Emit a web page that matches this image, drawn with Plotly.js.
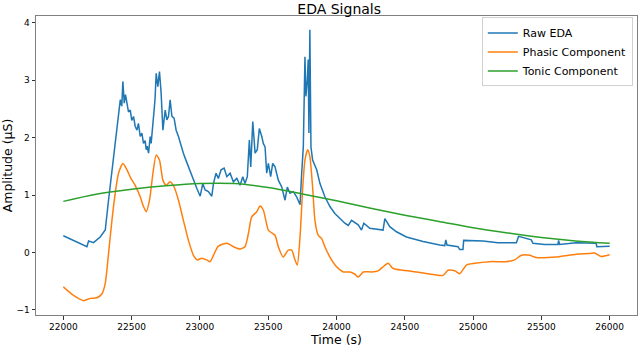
<!DOCTYPE html>
<html>
<head>
<meta charset="utf-8">
<script src="https://cdn.plot.ly/plotly-3.0.1.min.js"></script>
<style>
  body { margin: 0; padding: 0; background: #fff; }
  #myChart { width: 640px; height: 347px; }
</style>
</head>
<body>
<div id="myChart"></div>
<script>
// values
var raw_t = [22000, 22088, 22173, 22185, 22221, 22270, 22307, 22331, 22356, 22380,
  22404, 22417, 22428, 22436, 22446, 22455, 22466, 22477, 22490, 22501,
  22514, 22526, 22539, 22550, 22563, 22575, 22587, 22599, 22607, 22614,
  22624, 22636, 22643, 22656, 22667, 22672, 22680, 22692, 22704, 22709,
  22716, 22729, 22746, 22758, 22770, 22782, 22795, 22811, 22826, 22843,
  22862, 22879, 22899, 22916, 22936, 22953, 22977, 23002, 23021, 23038,
  23062, 23087, 23099, 23118, 23135, 23155, 23177, 23197, 23221, 23245,
  23270, 23294, 23314, 23330, 23347, 23362, 23372, 23387, 23404, 23420,
  23435, 23453, 23464, 23477, 23489, 23501, 23518, 23533, 23550, 23574,
  23599, 23623, 23640, 23659, 23684, 23708, 23733, 23745, 23757, 23769,
  23776, 23786, 23793, 23798, 23805, 23813, 23825, 23855, 23879, 23915,
  23952, 23988, 24025, 24061, 24086, 24110, 24159, 24183, 24200, 24244,
  24341, 24354, 24390, 24439, 24512, 24561, 24634, 24756, 24793, 24800,
  24809, 24890, 24902, 24926, 24931, 25072, 25182, 25317, 25333, 25426,
  25438, 25523, 25621, 25626, 25633, 25755, 25901, 25906, 26000];
var raw_eda = [0.29, 0.19, 0.10, 0.20, 0.17, 0.27, 0.39, 0.91, 1.44, 1.96,
  2.48, 2.66, 2.55, 2.98, 2.60, 2.75, 2.60, 2.45, 2.48, 2.30,
  2.37, 2.20, 2.13, 2.25, 2.02, 2.08, 1.90, 1.95, 1.79, 1.85,
  1.73, 2.02, 1.90, 2.19, 2.54, 2.70, 3.12, 2.89, 3.15, 3.00,
  2.78, 2.13, 2.48, 2.31, 2.37, 2.66, 2.37, 2.34, 2.13, 2.02,
  1.85, 1.73, 1.60, 1.49, 1.36, 1.26, 1.12, 0.98, 1.20, 1.09,
  1.06, 0.98, 1.20, 1.38, 1.29, 1.44, 1.47, 1.32, 1.38, 1.23,
  1.29, 1.17, 1.32, 1.20, 1.32, 1.96, 1.49, 2.28, 1.73, 1.79,
  2.16, 2.02, 1.90, 1.84, 1.38, 1.55, 1.32, 1.55, 1.49, 1.26,
  1.14, 0.91, 1.14, 1.03, 1.06, 0.97, 0.83, 1.38, 1.84, 3.41,
  2.72, 3.00, 3.36, 2.08, 3.88, 1.84, 1.61, 1.44, 1.20, 0.97,
  0.80, 0.68, 0.59, 0.51, 0.47, 0.56, 0.48, 0.39, 0.51, 0.42,
  0.39, 0.59, 0.45, 0.36, 0.27, 0.24, 0.19, 0.13, 0.12, 0.22,
  0.13, 0.10, 0.05, 0.05, 0.21, 0.20, 0.17, 0.17, 0.28, 0.22,
  0.16, 0.14, 0.14, 0.21, 0.14, 0.17, 0.16, 0.10, 0.11];

var phasic_t = [22000, 22075, 22148, 22197, 22246, 22283, 22307, 22331, 22356, 22380,
  22404, 22436, 22466, 22495, 22526, 22563, 22587, 22607, 22631, 22656,
  22680, 22704, 22729, 22753, 22782, 22811, 22843, 22879, 22916, 22953,
  22982, 23014, 23050, 23075, 23099, 23135, 23197, 23245, 23294, 23330,
  23355, 23379, 23416, 23440, 23464, 23501, 23526, 23550, 23574, 23610,
  23647, 23672, 23696, 23713, 23733, 23753, 23769, 23789, 23805, 23825,
  23842, 23866, 23891, 23915, 23952, 24001, 24050, 24099, 24135, 24159,
  24196, 24257, 24305, 24341, 24378, 24415, 24488, 24586, 24670, 24780,
  24817, 24866, 24902, 24951, 25012, 25121, 25243, 25304, 25353, 25414,
  25463, 25609, 25755, 25852, 25889, 25938, 26000];
var phasic = [-0.60, -0.75, -0.84, -0.80, -0.79, -0.72, -0.54, -0.02, 0.56, 1.03,
  1.38, 1.55, 1.44, 1.29, 1.17, 0.97, 0.80, 0.71, 0.91, 1.38,
  1.70, 1.61, 1.26, 1.17, 1.23, 1.14, 0.91, 0.56, 0.21, -0.05,
  -0.13, -0.10, -0.13, -0.16, -0.05, 0.11, 0.16, 0.10, 0.06, 0.10,
  0.33, 0.62, 0.71, 0.81, 0.74, 0.39, 0.34, 0.30, 0.10, -0.08,
  0.04, 0.04, -0.13, -0.22, 0.27, 1.14, 1.61, 1.79, 1.67, 1.14,
  0.56, 0.30, 0.24, 0.10, -0.08, -0.25, -0.34, -0.34, -0.38, -0.43,
  -0.34, -0.34, -0.32, -0.25, -0.19, -0.28, -0.31, -0.34, -0.37, -0.40,
  -0.31, -0.32, -0.37, -0.22, -0.19, -0.16, -0.16, -0.13, -0.05, -0.05,
  -0.09, -0.08, -0.03, -0.02, -0.01, -0.07, -0.04];

var tonic_t = [22000, 22250, 22500, 22750, 23000, 23250, 23500, 23750, 24000,
  24250, 24500, 24750, 25000, 25250, 25500, 25750, 26000];
var tonic = [0.89, 1.02, 1.10, 1.16, 1.20, 1.20, 1.13, 1.02, 0.90,
  0.77, 0.65, 0.54, 0.43, 0.34, 0.26, 0.20, 0.16];

var x_ticks = [22000, 22500, 23000, 23500, 24000, 24500, 25000, 25500, 26000];
var y_ticks = [-1, 0, 1, 2, 3, 4];

var font_ = 'DejaVu Sans, sans-serif';

var trace1 = {
  x: raw_t, y: raw_eda, type: 'scatter', mode: 'lines', name: 'Raw EDA',
  line: {color: '#1f77b4', width: 1.5}
};
var trace2 = {
  x: phasic_t, y: phasic, type: 'scatter', mode: 'lines', name: 'Phasic Component',
  line: {color: '#ff7f0e', width: 1.5, shape: 'spline', smoothing: 0.6}
};
var trace3 = {
  x: tonic_t, y: tonic, type: 'scatter', mode: 'lines', name: 'Tonic Component',
  line: {color: '#2ca02c', width: 1.5, shape: 'spline'}
};

var layout = {
  width: 640, height: 347,
  margin: {l: 36, r: 3, t: 16, b: 32},
  paper_bgcolor: '#fff', plot_bgcolor: '#fff',
  font: {family: font_, color: '#000'},
  title: {text: 'EDA Signals', font: {size: 14, family: font_, color: '#000'},
    x: 0.53, xanchor: 'center', y: 0.975, yanchor: 'middle', yref: 'container'},
  showlegend: true,
  legend: {x: 0.993, xanchor: 'right', y: 0.995, yanchor: 'top',
    bgcolor: 'rgba(255,255,255,0.8)', bordercolor: '#d0d0d0', borderwidth: 1,
    font: {size: 11, family: font_, color: '#000'}, tracegroupgap: 0},
  xaxis: {
    range: [21800, 26200], tickvals: x_ticks, ticktext: x_ticks.map(String),
    showgrid: false, zeroline: false, showline: true, mirror: true,
    linecolor: '#808080', linewidth: 1,
    ticks: 'outside', ticklen: 3.5, tickcolor: '#333', tickfont: {size: 9, family: font_},
    title: {text: 'Time (s)', font: {size: 12.5, family: font_}, standoff: 4}
  },
  yaxis: {
    range: [-1.09, 4.12], tickvals: y_ticks,
    showgrid: false, zeroline: false, showline: true, mirror: true,
    linecolor: '#808080', linewidth: 1,
    ticks: 'outside', ticklen: 3.5, tickcolor: '#333', tickfont: {size: 9, family: font_},
    title: {text: 'Amplitude (µS)', font: {size: 12.5, family: font_}, standoff: 4}
  }
};

Plotly.newPlot('myChart', [trace1, trace2, trace3], layout, {displayModeBar: false, staticPlot: true});
</script>
</body>
</html>
